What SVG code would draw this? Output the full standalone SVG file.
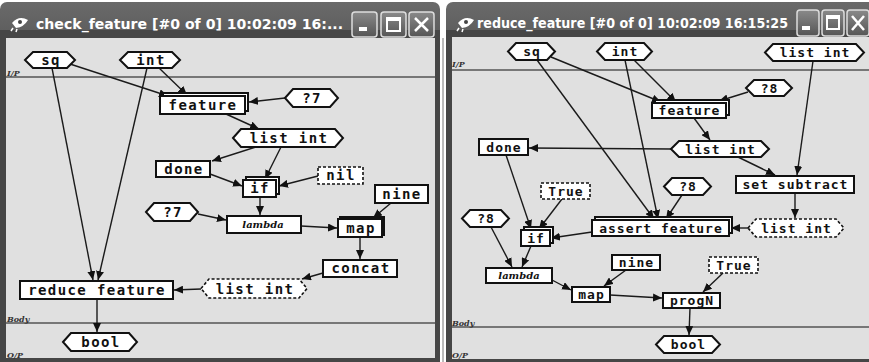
<svg xmlns="http://www.w3.org/2000/svg" width="869" height="362" viewBox="0 0 869 362">
<defs>
<linearGradient id="tb" x1="0" y1="0" x2="0" y2="1">
<stop offset="0" stop-color="#6a6a6a"/><stop offset="0.15" stop-color="#555"/><stop offset="1" stop-color="#3e3e3e"/>
</linearGradient>
<linearGradient id="btn" x1="0" y1="0" x2="0" y2="1">
<stop offset="0" stop-color="#8a8a8a"/><stop offset="1" stop-color="#555"/>
</linearGradient>
<marker id="ah" markerUnits="userSpaceOnUse" markerWidth="9" markerHeight="8" refX="9" refY="4" orient="auto">
<path d="M0,0 L9,4 L0,8 Z" fill="#111"/>
</marker>
</defs>
<style>
.n{fill:#fff;stroke:#111;stroke-width:2}
.d{fill:#fff;stroke:#111;stroke-width:1.6;stroke-dasharray:3,2}
.t{font-family:"DejaVu Sans Mono","Liberation Mono",monospace;font-weight:bold;font-size:14px;letter-spacing:1.4px;text-anchor:middle;fill:#111}
.tr{font-family:"DejaVu Sans Mono","Liberation Mono",monospace;font-weight:bold;font-size:13px;letter-spacing:1px;text-anchor:middle;fill:#111}
.lam{font-family:"DejaVu Serif","Liberation Serif",serif;font-style:italic;font-weight:bold;font-size:10px;text-anchor:middle;fill:#111}
.e{fill:none;stroke:#1a1a1a;stroke-width:1.4;marker-end:url(#ah)}
.sec{stroke:#555;stroke-width:1.5}
.lbl{font-family:"DejaVu Serif","Liberation Serif",serif;font-style:italic;font-weight:bold;font-size:8px;fill:#333}
.ttl{font-family:"DejaVu Sans","Liberation Sans",sans-serif;font-weight:bold;font-size:14px;fill:#fff}
.b{fill:url(#btn);stroke:#ddd;stroke-width:1.5}
.bs{fill:none;stroke:#fff;stroke-width:2}
</style>
<rect x="0" y="0" width="869" height="362" fill="#fff"/>

<!-- left window frame -->
<g id="window-left">
<rect x="0" y="2" width="440" height="360" rx="7" fill="url(#tb)"/>
<rect x="0" y="30" width="440" height="332" fill="#464646"/>
<rect x="6" y="38" width="429" height="320" fill="#e0e0e0"/>
<path d="M12,23 Q19,15 28,20 Q24,27 16,28 Z" fill="#fff"/><circle cx="20" cy="22" r="2" fill="#444"/><path d="M13,28 L11,31 M17,29 L16,32" stroke="#fff" stroke-width="1.5"/>
<text class="ttl" x="36" y="29" textLength="307" lengthAdjust="spacingAndGlyphs">check_feature [#0 of 0]  10:02:09 16:...</text>
<rect class="b" x="352" y="12" width="25" height="25" rx="3"/><rect x="359" y="27" width="8" height="4" fill="#fff"/>
<rect class="b" x="381" y="12" width="25" height="25" rx="3"/><rect class="bs" x="387" y="18" width="13" height="13"/><line x1="387" y1="19.5" x2="400" y2="19.5" stroke="#fff" stroke-width="3"/>
<rect class="b" x="409" y="12" width="25" height="25" rx="3"/><path d="M415,18 L428,31 M428,18 L415,31" stroke="#fff" stroke-width="2.5"/>
<line class="sec" x1="6" y1="77" x2="435" y2="77"/>
<line class="sec" x1="6" y1="323" x2="435" y2="323"/>
<text class="lbl" x="7" y="76">I/P</text>
<text class="lbl" x="7" y="322">Body</text>
<text class="lbl" x="7" y="358">O/P</text>
</g>

<!-- right window frame -->
<g id="window-right">
<rect x="446" y="2" width="430" height="360" rx="7" fill="url(#tb)"/>
<rect x="446" y="30" width="423" height="332" fill="#464646"/>
<rect x="452" y="37" width="417" height="322" fill="#e0e0e0"/>
<line x1="443" y1="38" x2="443" y2="362" stroke="#777" stroke-width="1"/>
<path d="M458,23 Q465,15 474,20 Q470,27 462,28 Z" fill="#fff"/><circle cx="466" cy="22" r="2" fill="#444"/><path d="M459,28 L457,31 M463,29 L462,32" stroke="#fff" stroke-width="1.5"/>
<text class="ttl" x="477" y="28" textLength="311" lengthAdjust="spacingAndGlyphs">reduce_feature [#0 of 0]  10:02:09 16:15:25</text>
<rect class="b" x="797" y="10" width="22" height="26" rx="3"/><rect x="802" y="26" width="8" height="4" fill="#fff"/>
<rect class="b" x="822" y="10" width="22" height="26" rx="3"/><rect class="bs" x="827" y="16" width="12" height="13"/><line x1="827" y1="17.5" x2="839" y2="17.5" stroke="#fff" stroke-width="3"/>
<rect class="b" x="847" y="10" width="22" height="26" rx="3"/><path d="M852,16 L864,30 M864,16 L852,30" stroke="#fff" stroke-width="2.5"/>
<line class="sec" x1="452" y1="70" x2="869" y2="70"/>
<line class="sec" x1="452" y1="327" x2="869" y2="327"/>
<text class="lbl" x="452" y="67">I/P</text>
<text class="lbl" x="452" y="326">Body</text>
<text class="lbl" x="452" y="358">O/P</text>
</g>

<!-- connectors -->
<g id="connectors">
<line class="e" x1="70" y1="64" x2="168" y2="96"/>
<line class="e" x1="158" y1="67" x2="187" y2="95"/>
<line class="e" x1="52" y1="68" x2="93" y2="280"/>
<line class="e" x1="147" y1="68" x2="98" y2="280"/>
<line class="e" x1="285" y1="98" x2="249" y2="102"/>
<line class="e" x1="226" y1="114" x2="259" y2="129"/>
<line class="e" x1="256" y1="147" x2="212" y2="161"/>
<line class="e" x1="281" y1="147" x2="265" y2="179"/>
<line class="e" x1="210" y1="174" x2="242" y2="186"/>
<line class="e" x1="318" y1="176" x2="279" y2="186"/>
<line class="e" x1="260" y1="197" x2="260" y2="215"/>
<line class="e" x1="198" y1="214" x2="226" y2="220"/>
<line class="e" x1="301" y1="226" x2="337" y2="228"/>
<line class="e" x1="391" y1="203" x2="373" y2="218"/>
<line class="e" x1="360" y1="237" x2="360" y2="259"/>
<line class="e" x1="323" y1="273" x2="302" y2="279"/>
<line class="e" x1="201" y1="289" x2="174" y2="290"/>
<line class="e" x1="97" y1="299" x2="97" y2="332"/>

<line class="e" x1="551" y1="57" x2="661" y2="102"/>
<line class="e" x1="634" y1="60" x2="676" y2="102"/>
<line class="e" x1="748" y1="92" x2="719" y2="101"/>
<line class="e" x1="694" y1="118" x2="710" y2="140"/>
<line class="e" x1="671" y1="149" x2="529" y2="148"/>
<line class="e" x1="738" y1="157" x2="775" y2="175"/>
<line class="e" x1="813" y1="61" x2="797" y2="175"/>
<line class="e" x1="795" y1="193" x2="795" y2="218"/>
<line class="e" x1="537" y1="60" x2="654" y2="219"/>
<line class="e" x1="625" y1="60" x2="658" y2="219"/>
<line class="e" x1="682" y1="195" x2="666" y2="219"/>
<line class="e" x1="748" y1="228" x2="731" y2="228"/>
<line class="e" x1="506" y1="155" x2="531" y2="229"/>
<line class="e" x1="562" y1="199" x2="539" y2="229"/>
<line class="e" x1="592" y1="232" x2="551" y2="238"/>
<line class="e" x1="491" y1="227" x2="512" y2="267"/>
<line class="e" x1="531" y1="246" x2="522" y2="267"/>
<line class="e" x1="552" y1="280" x2="571" y2="290"/>
<line class="e" x1="626" y1="270" x2="604" y2="286"/>
<line class="e" x1="610" y1="295" x2="662" y2="298"/>
<line class="e" x1="723" y1="273" x2="703" y2="292"/>
<line class="e" x1="690" y1="308" x2="689" y2="335"/>
</g>

<!-- left nodes -->
<g id="l-sq"><path class="n" d="M25,60 L33,52 L67,52 L75,60 L67,68 L33,68 Z"/><text class="t" x="51" y="65">sq</text></g>
<g id="l-int"><path class="n" d="M120,60 L128,52 L172,52 L180,60 L172,68 L128,68 Z"/><text class="t" x="151" y="65">int</text></g>
<g id="l-feature"><rect class="n" x="163" y="93" width="85" height="18"/><rect class="n" x="160" y="96" width="85" height="18"/><text class="t" x="203" y="110">feature</text></g>
<g id="l-q7a"><path class="n" d="M285,98 L293,89 L330,89 L338,98 L330,107 L293,107 Z"/><text class="t" x="312" y="103">?7</text></g>
<g id="l-listint1"><path class="n" d="M233,138 L241,129 L335,129 L343,138 L335,147 L241,147 Z"/><text class="t" x="289" y="143">list int</text></g>
<g id="l-done"><rect class="n" x="156" y="161" width="54" height="16"/><text class="t" x="184" y="174">done</text></g>
<g id="l-if"><rect class="n" x="246" y="177" width="33" height="17"/><rect class="n" x="243" y="180" width="33" height="17"/><text class="t" x="260" y="193">if</text></g>
<g id="l-nil"><rect class="d" x="318" y="167" width="45" height="17"/><text class="t" x="341" y="180">nil</text></g>
<g id="l-nine"><rect class="n" x="375" y="185" width="53" height="18"/><text class="t" x="402" y="199">nine</text></g>
<g id="l-q7b"><path class="n" d="M146,212 L154,203 L190,203 L198,212 L190,221 L154,221 Z"/><text class="t" x="173" y="217">?7</text></g>
<g id="l-lambda"><rect class="n" x="227" y="216" width="74" height="17"/><text class="lam" x="263" y="228">lambda</text></g>
<g id="l-map"><rect class="n" x="340" y="217" width="44" height="18"/><rect class="n" x="338" y="219" width="44" height="18"/><text class="t" x="361" y="233">map</text></g>
<g id="l-concat"><rect class="n" x="323" y="260" width="74" height="17"/><text class="t" x="361" y="273">concat</text></g>
<g id="l-listint2"><path class="d" d="M201,288.5 L209,279 L299,279 L307,288.5 L299,298 L209,298 Z"/><text class="t" x="255" y="294">list int</text></g>
<g id="l-reduce"><rect class="n" x="20" y="281" width="153" height="18"/><text class="t" x="97" y="295">reduce feature</text></g>
<g id="l-bool"><path class="n" d="M63,342 L71,333 L129,333 L137,342 L129,351 L71,351 Z"/><text class="t" x="101" y="347">bool</text></g>

<!-- right nodes -->
<g id="r-sq"><path class="n" d="M508,51.5 L516,43 L547,43 L555,51.5 L547,60 L516,60 Z"/><text class="tr" x="532" y="56">sq</text></g>
<g id="r-int"><path class="n" d="M597,51.5 L605,43 L644,43 L652,51.5 L644,60 L605,60 Z"/><text class="tr" x="625" y="56">int</text></g>
<g id="r-listtop"><path class="n" d="M765,52.5 L773,44 L856,44 L864,52.5 L856,61 L773,61 Z"/><text class="tr" x="815" y="57">list int</text></g>
<g id="r-q8a"><path class="n" d="M746,88 L754,80 L784,80 L792,88 L784,96 L754,96 Z"/><text class="tr" x="769.5" y="92.5">?8</text></g>
<g id="r-feature"><rect class="n" x="655" y="100" width="74" height="15"/><rect class="n" x="652" y="103" width="74" height="15"/><text class="tr" x="689.5" y="115">feature</text></g>
<g id="r-listmid"><path class="n" d="M671,149 L679,141 L761,141 L769,149 L761,157 L679,157 Z"/><text class="tr" x="720.5" y="153.5">list int</text></g>
<g id="r-done"><rect class="n" x="479" y="139" width="49" height="16"/><text class="tr" x="504" y="152">done</text></g>
<g id="r-setsub"><rect class="n" x="736" y="176" width="118" height="17"/><text class="tr" x="795.5" y="189">set subtract</text></g>
<g id="r-true1"><rect class="d" x="541" y="183" width="49" height="16"/><text class="tr" x="566" y="196">True</text></g>
<g id="r-q8b"><path class="n" d="M664,186.5 L672,178 L703,178 L711,186.5 L703,195 L672,195 Z"/><text class="tr" x="688" y="191">?8</text></g>
<g id="r-q8c"><path class="n" d="M462,218.5 L470,210 L501,210 L509,218.5 L501,227 L470,227 Z"/><text class="tr" x="486" y="223">?8</text></g>
<g id="r-if"><rect class="n" x="524" y="227" width="29" height="16"/><rect class="n" x="521" y="230" width="29" height="16"/><text class="tr" x="536" y="243">if</text></g>
<g id="r-assert"><rect class="n" x="595" y="217" width="137" height="16"/><rect class="n" x="592" y="220" width="137" height="16"/><text class="tr" x="661" y="233">assert feature</text></g>
<g id="r-listdash"><path class="d" d="M748,228 L756,219 L836,219 L844,228 L836,237 L756,237 Z"/><text class="tr" x="796.5" y="232.5">list int</text></g>
<g id="r-lambda"><rect class="n" x="486" y="268" width="66" height="15"/><text class="lam" x="519" y="279">lambda</text></g>
<g id="r-nine"><rect class="n" x="612" y="255" width="48" height="15"/><text class="tr" x="636.5" y="267">nine</text></g>
<g id="r-true2"><rect class="d" x="709" y="257" width="49" height="16"/><text class="tr" x="734" y="270">True</text></g>
<g id="r-map"><rect class="n" x="572" y="287" width="38" height="15"/><text class="tr" x="591.5" y="299">map</text></g>
<g id="r-progn"><rect class="n" x="663" y="293" width="57" height="15"/><text class="tr" x="692" y="305">progN</text></g>
<g id="r-bool"><path class="n" d="M656,344.5 L664,336 L712,336 L720,344.5 L712,353 L664,353 Z"/><text class="tr" x="688.5" y="349">bool</text></g>
</svg>
